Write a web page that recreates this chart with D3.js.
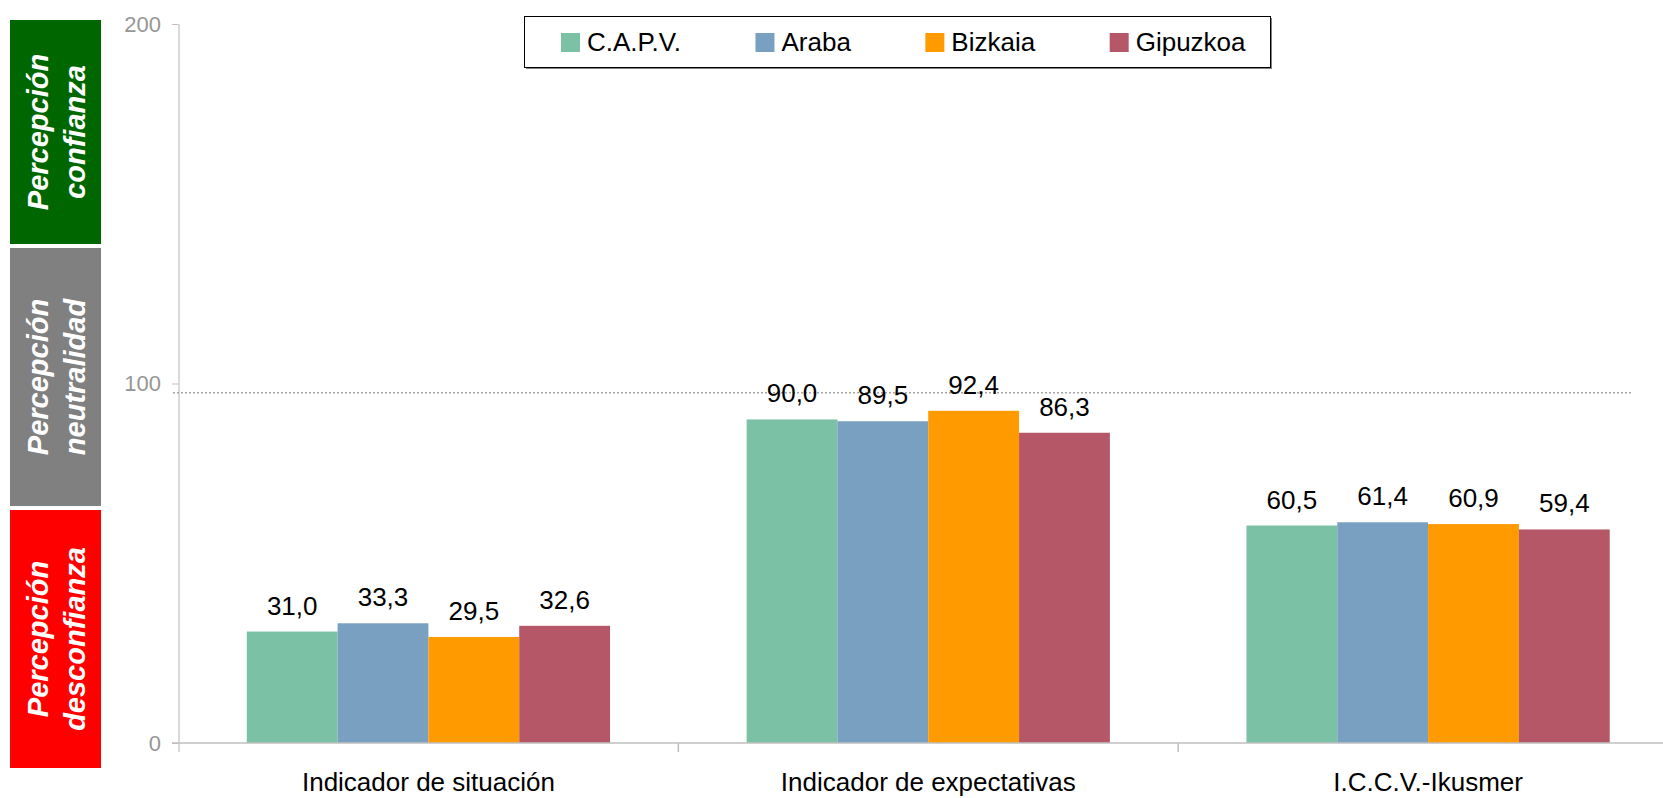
<!DOCTYPE html>
<html>
<head>
<meta charset="utf-8">
<script src="https://cdn.jsdelivr.net/npm/d3@7"></script>
<style>
  html, body { margin: 0; padding: 0; background: #fff; }
  svg { display: block; font-family: "Liberation Sans", Arial, sans-serif; }
</style>
</head>
<body>
<svg id="chart" width="1663" height="798"></svg>
<script>
// ---- data ----
const categories = ["Indicador de situación", "Indicador de expectativas", "I.C.C.V.-Ikusmer"];
const seriesNames = ["C.A.P.V.", "Araba", "Bizkaia", "Gipuzkoa"];
const capv     = [31.0, 90.0, 60.5];
const araba    = [33.3, 89.5, 61.4];
const bizkaia  = [29.5, 92.4, 60.9];
const gipuzkoa = [32.6, 86.3, 59.4];
const seriesColors = ["#7BC1A5", "#7AA0C1", "#FF9A00", "#B55767"];
const yTicks = [0, 100, 200];
const neutralLine = 97.4;
const zoneLabels = [
  ["Percepción", "confianza"],
  ["Percepción", "neutralidad"],
  ["Percepción", "desconfianza"]
];
const zoneColors = ["#006600", "#808080", "#FF0000"];

const seriesValues = [capv, araba, bizkaia, gipuzkoa];

// ---- layout ----
const svg = d3.select("#chart");
const y = d3.scaleLinear().domain([0, 200]).range([743, 24]);
const x = d3.scaleBand().domain(categories).range([178.5, 1678]).padding(0);
const xi = d3.scaleBand().domain(seriesNames).range([0, x.bandwidth()]).paddingInner(0).paddingOuter(0.752);

// side zone boxes
const zoneTop = [20, 248, 510];
const zoneH = [224, 258, 258];
const zones = svg.append("g");
zoneLabels.forEach((lines, i) => {
  zones.append("rect")
    .attr("x", 10).attr("y", zoneTop[i]).attr("width", 91).attr("height", zoneH[i])
    .attr("fill", zoneColors[i]);
  const g = zones.append("g")
    .attr("transform", `translate(55.5,${zoneTop[i] + zoneH[i] / 2}) rotate(-90)`);
  lines.forEach((t, j) => {
    g.append("text")
      .attr("x", 0).attr("y", j === 0 ? -7.5 : 29.5)
      .attr("text-anchor", "middle")
      .attr("fill", "#fff")
      .attr("font-size", 29)
      .attr("font-weight", "bold")
      .attr("font-style", "italic")
      .text(t);
  });
});

// y axis
const yAxis = d3.axisLeft(y).tickValues(yTicks).tickSize(7).tickPadding(11).tickFormat(d3.format("d"));
const yg = svg.append("g").attr("transform", "translate(179,0)").call(yAxis);
yg.select(".domain").remove();
yg.selectAll(".tick line").attr("stroke", "#bfbfbf");
yg.selectAll(".tick text").attr("fill", "#969696").attr("font-size", 22)
  .attr("font-family", "\"Liberation Sans\", Arial, sans-serif");
svg.append("line").attr("x1", 179).attr("x2", 179).attr("y1", y(200)).attr("y2", y(0) + 9)
  .attr("stroke", "#d9d9d9").attr("stroke-width", 2);

// neutral dotted line
svg.append("line")
  .attr("x1", 173).attr("x2", 1633)
  .attr("y1", y(neutralLine)).attr("y2", y(neutralLine))
  .attr("stroke", "#a6a6a6").attr("stroke-width", 1.5).attr("stroke-dasharray", "2,2");

// bars
const groups = svg.append("g").selectAll("g").data(categories).join("g")
  .attr("transform", d => `translate(${x(d)},0)`);
seriesNames.forEach((s, si) => {
  groups.append("rect")
    .attr("x", xi(s))
    .attr("width", xi.bandwidth())
    .attr("y", (d, ci) => y(seriesValues[si][ci]))
    .attr("height", (d, ci) => y(0) - y(seriesValues[si][ci]))
    .attr("fill", seriesColors[si]);
  groups.append("text")
    .attr("x", xi(s) + xi.bandwidth() / 2)
    .attr("y", (d, ci) => y(seriesValues[si][ci]) - 17)
    .attr("text-anchor", "middle")
    .attr("font-size", 26)
    .attr("fill", "#000")
    .text((d, ci) => d3.format(".1f")(seriesValues[si][ci]).replace(".", ","));
});

// x axis
svg.append("line").attr("x1", 172).attr("x2", 1663).attr("y1", y(0)).attr("y2", y(0))
  .attr("stroke", "#bfbfbf").attr("stroke-width", 1.5);
const xAxis = d3.axisBottom(x).tickSize(0).tickPadding(30);
const xg = svg.append("g").attr("transform", `translate(0,${y(0)})`).call(xAxis);
xg.select(".domain").remove();
xg.selectAll(".tick text").attr("fill", "#000").attr("font-size", 26)
  .attr("font-family", "\"Liberation Sans\", Arial, sans-serif");
categories.slice(1).forEach(c => {
  svg.append("line").attr("x1", x(c)).attr("x2", x(c)).attr("y1", y(0)).attr("y2", y(0) + 9)
    .attr("stroke", "#bfbfbf").attr("stroke-width", 1.5);
});

// legend
const lg = svg.append("g");
lg.append("rect").attr("x", 526).attr("y", 18).attr("width", 746).attr("height", 51).attr("fill", "#808080");
lg.append("rect").attr("x", 524.5).attr("y", 16.5).attr("width", 746).attr("height", 51)
  .attr("fill", "#fff").attr("stroke", "#000").attr("stroke-width", 1);
let lx = 561;
seriesNames.forEach((s, i) => {
  lg.append("rect").attr("x", lx).attr("y", 33).attr("width", 19).attr("height", 19).attr("fill", seriesColors[i]);
  const t = lg.append("text").attr("x", lx + 26).attr("y", 51).attr("font-size", 26).attr("fill", "#000").text(s);
  lx += 26 + t.node().getComputedTextLength() + 74.5;
});
</script>
</body>
</html>
